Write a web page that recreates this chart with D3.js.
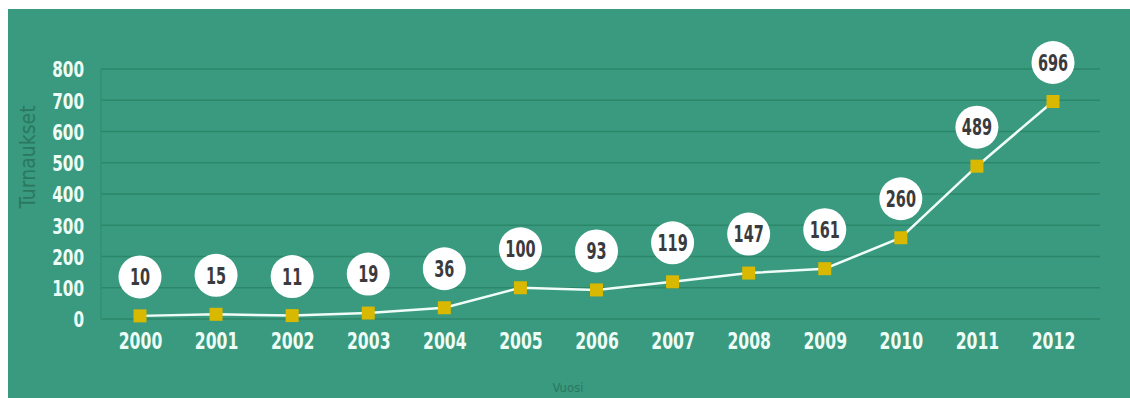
<!DOCTYPE html>
<html>
<head>
<meta charset="utf-8">
<script src="https://cdn.jsdelivr.net/npm/d3@7"></script>
<style>
  body { margin: 0; background: #fff; }
  svg text { font-family: "DejaVu Sans Condensed", "DejaVu Sans", sans-serif; }
</style>
</head>
<body>
<svg id="chart" width="1130" height="398"></svg>
<script>
// data
const years = ["2000", "2001", "2002", "2003", "2004", "2005", "2006",
               "2007", "2008", "2009", "2010", "2011", "2012"];
const tournaments = [10, 15, 11, 19, 36, 100, 93, 119, 147, 161, 260, 489, 696];
const yTicks = [0, 100, 200, 300, 400, 500, 600, 700, 800];

const svg = d3.select("#chart");

// green panel
svg.append("rect")
    .attr("x", 8).attr("y", 9)
    .attr("width", 1122).attr("height", 389)
    .attr("fill", "#399a7f");

let x = d3.scalePoint().domain(years).range([140, 1053]);
let y = d3.scaleLinear().domain([0, 800]).range([319, 69]);

// gridlines
svg.append("g")
    .selectAll("line")
    .data(yTicks)
    .join("line")
    .attr("x1", 101).attr("x2", 1100)
    .attr("y1", d => y(d)).attr("y2", d => y(d))
    .attr("stroke", "#2c8669")
    .attr("stroke-width", 1.3);

svg.append("line")
    .attr("x1", 101).attr("x2", 101)
    .attr("y1", y(800)).attr("y2", y(0))
    .attr("stroke", "#2f8b6f")
    .attr("stroke-width", 1);

// y tick labels (narrowed to look like the condensed face)
let yAxis = d3.axisLeft(y).tickValues(yTicks).tickSize(0).tickPadding(0);
let gy = svg.append("g").attr("transform", "translate(84,0)").call(yAxis);
gy.select(".domain").remove();
gy.selectAll("text")
    .attr("fill", "#eefcf6")
    .attr("font-size", 22)
    .attr("font-weight", "bold")
    .attr("font-family", "DejaVu Sans Condensed")
    .attr("dy", "0.36em")
    .attr("transform", "scale(0.77,1)");

// x tick labels
let xAxis = d3.axisBottom(x).tickSize(0).tickPadding(0);
let gx = svg.append("g").attr("transform", "translate(0,332)").call(xAxis);
gx.select(".domain").remove();
gx.selectAll("text")
    .attr("fill", "#eefcf6")
    .attr("font-size", 23.5)
    .attr("font-weight", "bold")
    .attr("font-family", "DejaVu Sans Condensed")
    .attr("dy", "0.72em")
    .attr("transform", "scale(0.74,1)");

// axis titles
svg.append("text")
    .attr("transform", "translate(35,157) rotate(-90)")
    .attr("text-anchor", "middle")
    .attr("font-size", 21)
    .attr("fill", "#2a785f")
    .text("Turnaukset");

svg.append("text")
    .attr("x", 568).attr("y", 392)
    .attr("text-anchor", "middle")
    .attr("font-size", 13)
    .attr("fill", "#2a785f")
    .text("Vuosi");

// line
let lineGen = d3.line()
    .x((d, i) => x(years[i]))
    .y(d => y(d));

svg.append("path")
    .datum(tournaments)
    .attr("d", lineGen)
    .attr("fill", "none")
    .attr("stroke", "#effcf7")
    .attr("stroke-width", 2.5);

// markers
svg.append("g")
    .selectAll("rect")
    .data(tournaments)
    .join("rect")
    .attr("x", (d, i) => x(years[i]) - 6.5)
    .attr("y", d => y(d) - 6.5)
    .attr("width", 13).attr("height", 13)
    .attr("fill", "#d8b800");

// value bubbles
let bubbles = svg.append("g")
    .selectAll("g")
    .data(tournaments)
    .join("g")
    .attr("transform", (d, i) => `translate(${x(years[i])},${y(d) - 39})`);

bubbles.append("circle")
    .attr("r", 21.5)
    .attr("fill", "#ffffff");

bubbles.append("text")
    .attr("text-anchor", "middle")
    .attr("dy", "0.36em")
    .attr("font-size", 23)
    .attr("font-weight", "bold")
    .attr("fill", "#3b3b3d")
    .attr("transform", "scale(0.7,1)")
    .text(d => d);
</script>
</body>
</html>
